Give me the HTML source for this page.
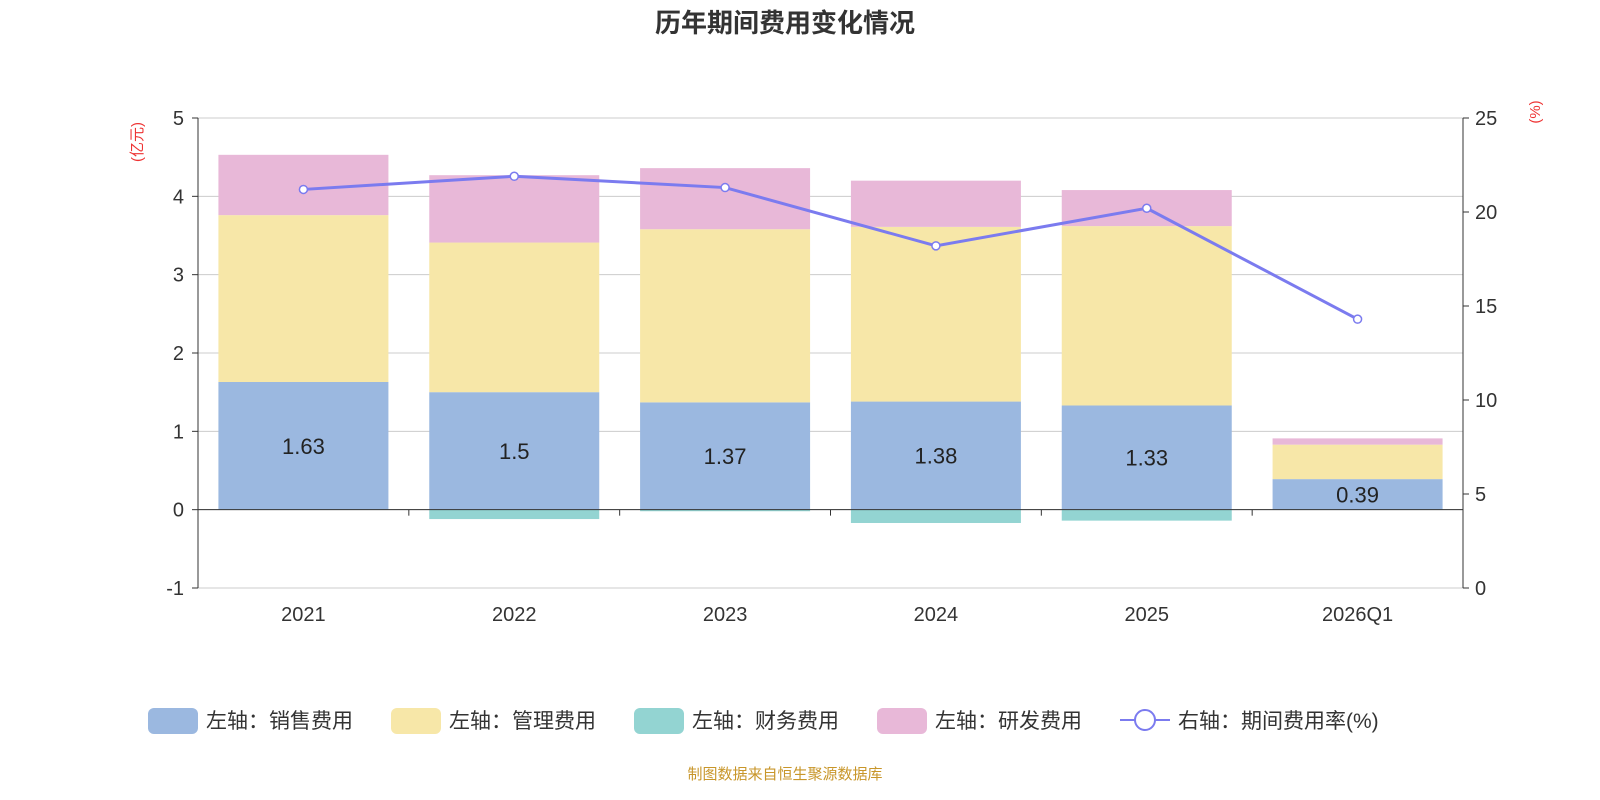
<!DOCTYPE html>
<html><head><meta charset="utf-8">
<style>
body{margin:0;background:#fff;}
svg{display:block;font-family:"Liberation Sans","Noto Sans CJK SC",sans-serif;}
</style></head>
<body>
<svg id="chart" width="1600" height="800" viewBox="0 0 1600 800">
<text x="785" y="32" text-anchor="middle" font-size="26" font-weight="bold" fill="#333">历年期间费用变化情况</text>
<text transform="translate(142,142) rotate(-90)" text-anchor="middle" font-size="15" fill="#e33">(亿元)</text>
<text transform="translate(1540,112) rotate(-90)" text-anchor="middle" font-size="15" fill="#e33">(%)</text>
<g id="grid"></g><g id="bars"></g><g id="axes"></g><g id="line"></g>
<g id="legend"></g>
<text x="785" y="779" text-anchor="middle" font-size="15" fill="#c8962a">制图数据来自恒生聚源数据库</text>
</svg>
<script>
const categories=["2021","2022","2023","2024","2025","2026Q1"];
const sales=[1.63,1.5,1.37,1.38,1.33,0.39];
const admin=[2.13,1.91,2.21,2.23,2.29,0.44];
const finance=[0,-0.12,-0.02,-0.17,-0.14,0];
const rd=[0.77,0.86,0.78,0.59,0.46,0.08];
const ratio=[21.2,21.9,21.3,18.2,20.2,14.3];
const leftTicks=[-1,0,1,2,3,4,5];
const rightTicks=[0,5,10,15,20,25];
const NS="http://www.w3.org/2000/svg";
const X0=198,X1=1463,YT=118,YB=588;
const yL=v=>YB-(v+1)/6*(YB-YT);
const yR=v=>YB-v/25*(YB-YT);
const bw=(X1-X0)/categories.length;
const xc=i=>X0+bw*(i+0.5);
function mk(tag,attrs,parent,txt){const e=document.createElementNS(NS,tag);for(const k in attrs)e.setAttribute(k,attrs[k]);if(txt!==undefined)e.textContent=txt;document.getElementById(parent).appendChild(e);return e;}
leftTicks.forEach(t=>{
 const g=mk('line',{x1:X0,x2:X1,y1:yL(t),y2:yL(t),stroke:'#ccc','stroke-width':1},'grid');
 
 
 const l=mk('text',{x:X0-14,y:yL(t)+7,'text-anchor':'end','font-size':20,fill:'#333'},'axes',String(t));
 
 
});
rightTicks.forEach(t=>{
 const l=mk('text',{x:X1+12,y:yR(t)+7,'font-size':20,fill:'#333'},'axes',String(t));
 
 
});
const series=[[sales,'#9bb8e0'],[admin,'#f7e7a8'],[rd,'#e8b8d8']];
categories.forEach((c,i)=>{
 let base=0;
 series.forEach(([arr,col],si)=>{
  const r=mk('rect',{x:xc(i)-85,y:yL(base+arr[i]),width:170,height:yL(base)-yL(base+arr[i]),fill:col},'bars');
  
  
  base+=arr[i];
 });
 if(finance[i]<0){
  const r=mk('rect',{x:xc(i)-85,y:yL(0),width:170,height:yL(finance[i])-yL(0),fill:'#93d4d2'},'bars');
  
  
 }
 const v=mk('text',{x:xc(i),y:(yL(0)+yL(sales[i]))/2+8,'text-anchor':'middle','font-size':22,fill:'#222'},'bars',String(sales[i]));
 
 
 const cl=mk('text',{x:xc(i),y:621,'text-anchor':'middle','font-size':20,fill:'#333'},'axes',c);
 
 
});
mk('line',{x1:X0,x2:X0,y1:YT,y2:YB,stroke:'#333'},'axes');
mk('line',{x1:X1,x2:X1,y1:YT,y2:YB,stroke:'#333'},'axes');
mk('line',{x1:X0,x2:X1,y1:yL(0),y2:yL(0),stroke:'#333'},'axes');
for(let i=0;i<=categories.length;i++)mk('line',{x1:X0+bw*i,x2:X0+bw*i,y1:yL(0),y2:yL(0)+6,stroke:'#333'},'axes');
leftTicks.forEach(t=>mk('line',{x1:X0-6,x2:X0,y1:yL(t),y2:yL(t),stroke:'#333'},'axes'));
rightTicks.forEach(t=>mk('line',{x1:X1,x2:X1+6,y1:yR(t),y2:yR(t),stroke:'#333'},'axes'));
const pl=mk('polyline',{points:ratio.map((v,i)=>xc(i)+','+yR(v)).join(' '),fill:'none',stroke:'#7b7bef','stroke-width':3},'line');


ratio.forEach((v,i)=>{
 const p=mk('circle',{cx:xc(i),cy:yR(v),r:4,fill:'#fff',stroke:'#7b7bef','stroke-width':1.5},'line');
 
 
});
const leg=[['左轴：销售费用','#9bb8e0',148],['左轴：管理费用','#f7e7a8',391],['左轴：财务费用','#93d4d2',634],['左轴：研发费用','#e8b8d8',877]];
leg.forEach(([t,c,x])=>{
 const r=mk('rect',{x:x,y:708,width:50,height:26,rx:6,fill:c},'legend');
 
 
 const tx=mk('text',{x:x+58,y:728,'font-size':21,fill:'#333'},'legend',t);
 
 
});
mk('line',{x1:1120,x2:1170,y1:720,y2:720,stroke:'#7b7bef','stroke-width':2},'legend');
mk('circle',{cx:1145,cy:720,r:10,fill:'#fff',stroke:'#7b7bef','stroke-width':2},'legend');
const lt=mk('text',{x:1178,y:728,'font-size':21,fill:'#333'},'legend','右轴：期间费用率(%)');


</script>
</body></html>
